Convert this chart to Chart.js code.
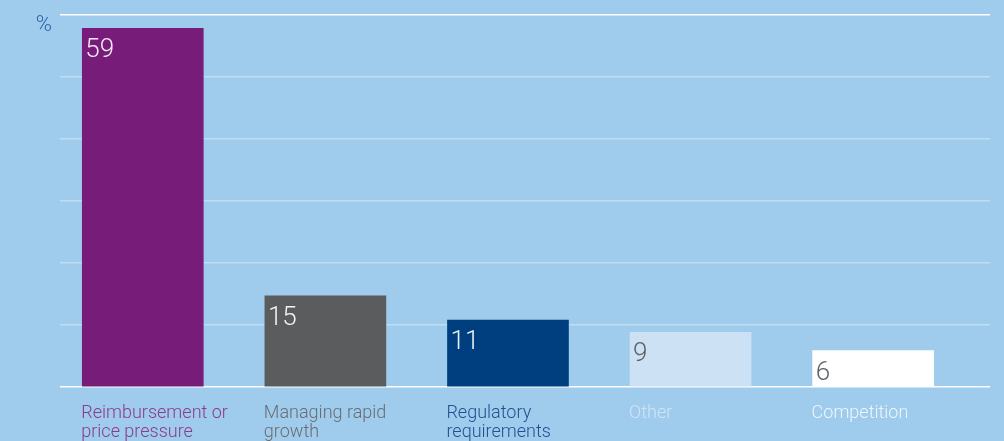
<!DOCTYPE html>
<html><head><meta charset="utf-8">
<script src="https://cdn.jsdelivr.net/npm/chart.js@4.4.1/dist/chart.umd.min.js"></script>
<style>html,body{margin:0;padding:0;background:#9fcbec;overflow:hidden}#wrap{width:1004px;height:441px;position:relative}</style>
</head><body><div id="wrap"><canvas id="c" width="1004" height="441"></canvas></div>
<script>
// ---- data ----
const categories = [["Reimbursement or","price pressure"],["Managing rapid","growth"],["Regulatory","requirements"],["Other"],["Competition"]];
const values = [59, 15, 11, 9, 6];
const gridValues = [0, 10.2, 20.4, 30.6, 40.8, 51, 61.2];
const axisUnit = '%';

// ---- styles ----
const barColors = ['#781c7a','#5b5c5e','#003f7f','#cce1f4','#ffffff'];
const valueTextColors = ['#f3e9f3','#f2f2f2','#eaf0f7','#5d6268','#5d6268'];
const labelColors = ['#8b3b8f','#6a6d71','#1f5190','#d0e4f6','#eef6fd'];
const FONT = 'Roboto';

const valueLabels = {
  id: 'valueLabels',
  afterDatasetsDraw(chart) {
    const ctx = chart.ctx;
    const meta = chart.getDatasetMeta(0);
    ctx.save();
    ctx.font = '300 26px ' + FONT;
    ctx.textAlign = 'left';
    ctx.textBaseline = 'alphabetic';
    meta.data.forEach((bar, i) => {
      const left = bar.x - bar.width / 2;
      ctx.fillStyle = valueTextColors[i];
      ctx.fillText(String(values[i]), left + 3, bar.y + 29);
    });
    ctx.restore();
  }
};

new Chart(document.getElementById('c'), {
  type: 'bar',
  data: {
    datasets: [{
      data: values.map((v, i) => ({x: i, y: v})),
      backgroundColor: barColors,
      borderWidth: 0,
      barThickness: 121
    }]
  },
  options: {
    responsive: false,
    animation: false,
    events: [],
    layout: {padding: {left: 0, right: 14, top: 15, bottom: 0}},
    plugins: {legend: {display: false}, tooltip: {enabled: false}},
    scales: {
      x: {
        type: 'linear',
        offset: false,
        bounds: 'data',
        min: -0.4534, max: 4.640,
        grid: {display: false, offset: false},
        border: {display: false},
        afterBuildTicks(s) { s.ticks = categories.map((c, i) => ({value: i - 0.337})); },
        afterFit(s) { s.height = 54; },
        ticks: {
          autoSkip: false, maxRotation: 0, minRotation: 0, align: 'start', padding: 9,
          font: {family: FONT, size: 18, weight: '300', lineHeight: '19px'},
          color: (ctx) => labelColors[ctx.index],
          callback: (v, i) => categories[i]
        }
      },
      y: {
        min: 0, max: 61.2,
        afterBuildTicks(s) { s.ticks = gridValues.map(v => ({value: v})); },
        afterFit(s) { s.width = 60; },
        border: {display: false},
        grid: {
          drawTicks: false, lineWidth: 1.5,
          color: (ctx) => (ctx.index === 0 || ctx.index === gridValues.length - 1) ? '#ffffff' : 'rgba(255,255,255,0.35)'
        },
        ticks: {
          padding: 8, labelOffset: 10, color: '#2b64a8',
          font: {family: FONT, size: 22, weight: '300', lineHeight: '8px'},
          callback: (v, i) => i === gridValues.length - 1 ? axisUnit : ''
        }
      }
    }
  },
  plugins: [valueLabels]
});
</script></body></html>
